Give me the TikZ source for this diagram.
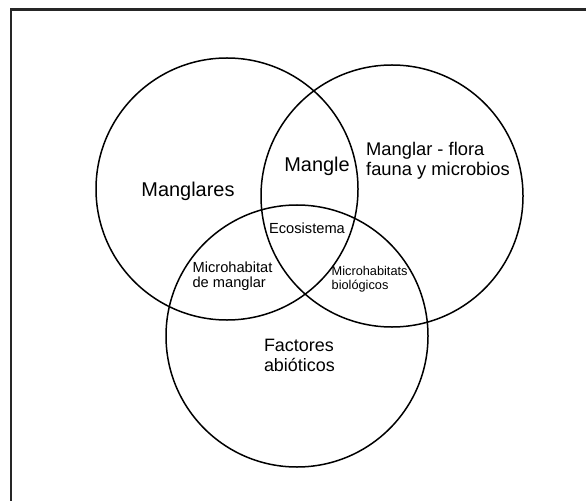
\documentclass[tikz,border=0pt]{standalone}
\usepackage{fontspec}
\setmainfont{Liberation Sans}

\begin{document}
\begin{tikzpicture}[x=1bp,y=-1bp]
\tikzset{Conjunto/.style={draw, circle, line width=1.5bp, minimum size=262bp, inner sep=0pt}}
\tikzset{Texto/.style={inner sep=0pt, align=left}}
\clip (0,0) rectangle (586,501);
\draw[line width=2.2bp, black!85] (11.2,9.5) rectangle (620,540);
\node[Conjunto] (manglares) at (227,189) {};
\node[Conjunto] (flora) at (392,196) {};
\node[Conjunto] (abioticos) at (297,336) {};
\node[Texto, anchor=base, font=\fontsize{20}{23}\selectfont] (tmanglares) at (188,197) {Manglares};
\node[Texto, anchor=base, font=\fontsize{20}{23}\selectfont] (tmangle) at (317,172) {Mangle};
\node[Texto, anchor=base west, font=\fontsize{18.4}{20.3}\selectfont] (tflora) at (366,176) {Manglar - flora\\fauna y microbios};
\node[Texto, anchor=base, font=\fontsize{14.7}{16}\selectfont] (tecosistema) at (307,234) {Ecosistema};
\node[Texto, anchor=base west, font=\fontsize{14.7}{14.4}\selectfont] (tmicro) at (192.4,287.3) {Microhabitat\\de manglar};
\node[Texto, anchor=base west, font=\fontsize{12.8}{13.4}\selectfont] (tmicrob) at (331.5,289.3) {Microhabitats\\biológicos};
\node[Texto, anchor=base west, font=\fontsize{18}{20}\selectfont] (tfactores) at (263.8,371.7) {Factores\\abióticos};
\end{tikzpicture}
\end{document}
